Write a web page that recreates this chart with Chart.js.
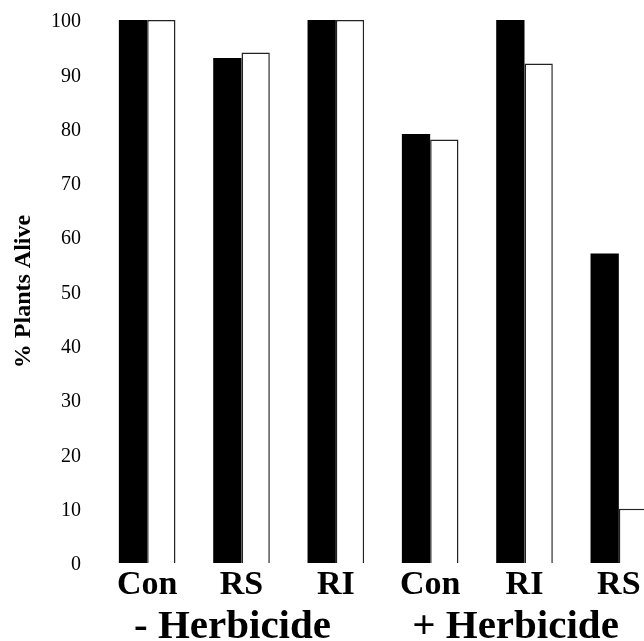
<!DOCTYPE html>
<html>
<head>
<meta charset="utf-8">
<script src="https://cdn.jsdelivr.net/npm/chart.js@4/dist/chart.umd.min.js"></script>
<style>
html,body{margin:0;padding:0;background:#fff;overflow:hidden;width:644px;height:641px;}
#wrap{position:absolute;left:0;top:0;width:680px;height:641px;}
</style>
</head>
<body>
<div id="wrap"><canvas id="c" width="680" height="641"></canvas></div>
<script>
const categories = ['Con', 'RS', 'RI', 'Con', 'RI', 'RS'];
const groupLabels = ['- Herbicide', '+ Herbicide'];
const blackSeries = [100, 93, 100, 79, 100, 57];
const whiteSeries = [100, 94, 100, 78, 92, 10];
const yTicks = [0, 10, 20, 30, 40, 50, 60, 70, 80, 90, 100];

const serif = "'Liberation Serif', 'Times New Roman', serif";

new Chart(document.getElementById('c'), {
  type: 'bar',
  data: {
    labels: categories,
    datasets: [
      { data: blackSeries, backgroundColor: '#000', borderWidth: 0, xAxisID: 'x' },
      { data: whiteSeries, backgroundColor: '#fff', borderColor: '#222', borderWidth: 1.5, xAxisID: 'x' }
    ]
  },
  options: {
    responsive: false,
    animation: false,
    devicePixelRatio: 1,
    layout: { padding: { top: 20, right: 14, left: 0, bottom: 0 } },
    plugins: { legend: { display: false }, tooltip: { enabled: false } },
    datasets: { bar: { categoryPercentage: 0.6, barPercentage: 1.0 } },
    scales: {
      x: {
        type: 'category',
        position: 'bottom',
        weight: 0,
        grid: { display: false, drawTicks: false },
        border: { display: false },
        ticks: { color: '#000', font: { family: serif, size: 34, weight: 'bold' }, padding: 2, maxRotation: 0, autoSkip: false },
        afterFit: s => { s.height = 40; }
      },
      x2: {
        type: 'category',
        position: 'bottom',
        weight: 1,
        labels: groupLabels,
        offset: true,
        grid: { display: false, drawTicks: false },
        border: { display: false },
        ticks: { color: '#000', font: { family: serif, size: 41, weight: 'bold' }, padding: 0, labelOffset: -9, maxRotation: 0, autoSkip: false },
        afterFit: s => { s.height = 38; }
      },
      y: {
        min: 0,
        max: 100,
        afterBuildTicks: s => { s.ticks = yTicks.map(v => ({ value: v })); },
        grid: { display: false, drawTicks: false },
        border: { display: false },
        ticks: { color: '#000', font: { family: serif, size: 20 }, padding: 19, labelOffset: 2 },
        title: { display: true, text: '% Plants Alive', color: '#000', font: { family: serif, size: 24, weight: 'bold' }, padding: { top: 9, bottom: 0 } },
        afterFit: s => { s.width = 100; s.paddingTop = 0; s.paddingBottom = 0; }
      }
    }
  }
});
</script>
</body>
</html>
